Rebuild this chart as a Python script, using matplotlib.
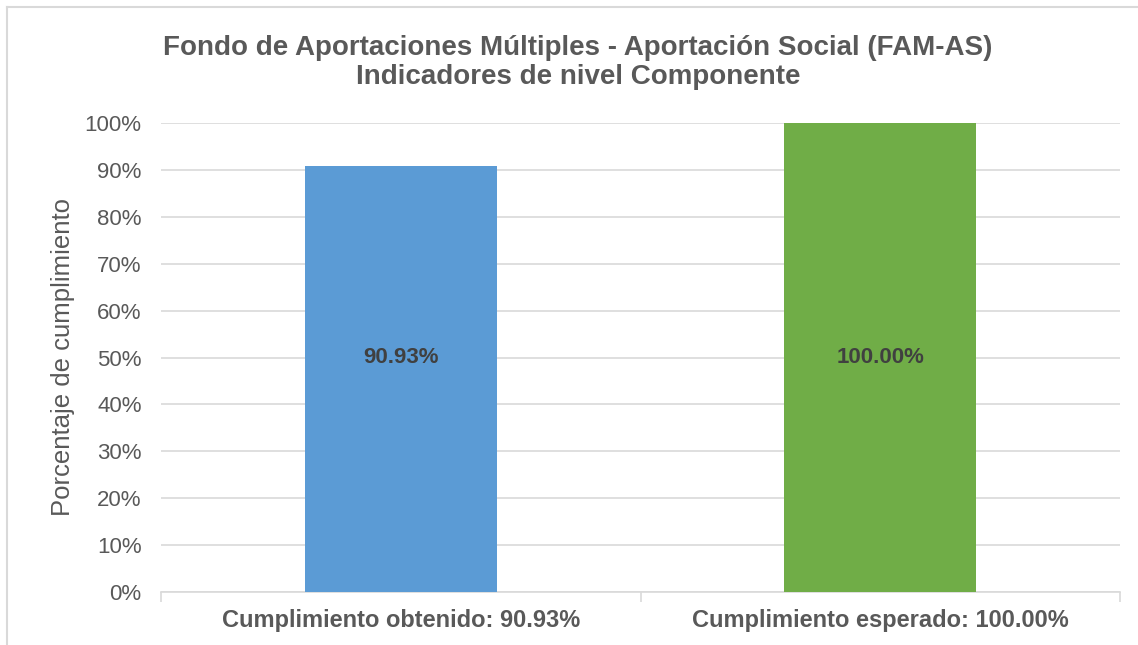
import matplotlib
matplotlib.use("Agg")
import matplotlib.pyplot as plt
from matplotlib.lines import Line2D

categories = ["Cumplimiento obtenido: 90.93%", "Cumplimiento esperado: 100.00%"]
values = [90.93, 100.00]
bar_labels = ["90.93%", "100.00%"]
yticks = [0, 10, 20, 30, 40, 50, 60, 70, 80, 90, 100]
ytick_labels = [f"{t}%" for t in yticks]
colors = ["#5B9BD5", "#70AD47"]

W, H = 1138, 645
plt.rcParams['font.family'] = ['Liberation Sans', 'DejaVu Sans']
fig = plt.figure(figsize=(W / 100, H / 100), dpi=100)
fig.patch.set_facecolor("white")

# figure border (top and left visible)
fig.add_artist(Line2D([7 / W, 1.0], [1 - 7 / H, 1 - 7 / H], transform=fig.transFigure,
                      color="#D9D9D9", lw=1.5))
fig.add_artist(Line2D([7 / W, 7 / W], [0, 1 - 7 / H], transform=fig.transFigure,
                      color="#D9D9D9", lw=1.5))

left, right, top, bottom = 161, 1120, 123, 592
ax = fig.add_axes([left / W, (H - bottom) / H, (right - left) / W, (bottom - top) / H])

x = list(range(len(categories)))
bars = ax.bar(x, values, width=0.4, color=colors, zorder=3)
for xi, v, lab in zip(x, values, bar_labels):
    ax.text(xi, 50, lab, ha="center", va="center", fontsize=16, fontweight="bold",
            color="#404040", zorder=4)

ax.set_xlim(-0.5, len(categories) - 0.5)
ax.set_ylim(0, 100)
ax.set_yticks(yticks)
ax.set_yticklabels(ytick_labels, fontsize=16, color="#595959")
ax.tick_params(axis="y", length=0, pad=14)
ax.yaxis.grid(True, color="#D9D9D9", lw=1.2, zorder=0)

ax.set_xticks(x)
ax.set_xticklabels(categories, fontsize=17, fontweight="bold", color="#595959")
ax.tick_params(axis="x", which="major", length=0, pad=12)
ax.set_xticks([-0.5, 0.5, 1.5], minor=True)
ax.tick_params(axis="x", which="minor", length=7, color="#D9D9D9", width=1.2)

for s in ["top", "right", "left"]:
    ax.spines[s].set_visible(False)
ax.spines["bottom"].set_color("#D9D9D9")
ax.spines["bottom"].set_linewidth(1.2)

ax.set_ylabel("Porcentaje de cumplimiento", fontsize=18.5, color="#595959", labelpad=7)

fig.text(578 / W, 1 - 48 / H, "Fondo de Aportaciones Múltiples - Aportación Social (FAM-AS)",
         ha="center", va="center", fontsize=20, fontweight="bold", color="#595959")
fig.text(578 / W, 1 - 77 / H, "Indicadores de nivel Componente",
         ha="center", va="center", fontsize=20, fontweight="bold", color="#595959")

fig.savefig("out.png", dpi=100, facecolor="white")
